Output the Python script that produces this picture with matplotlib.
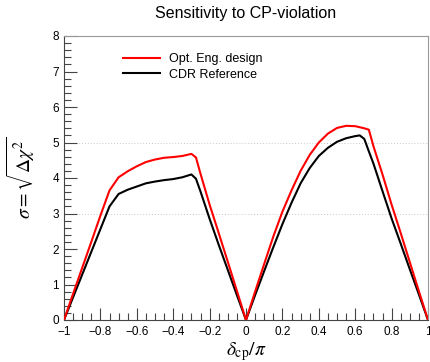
import matplotlib.pyplot as plt
import numpy as np

plt.rcParams['font.family'] = ['Liberation Sans', 'DejaVu Sans']
plt.rcParams['mathtext.fontset'] = 'stix'

# delta_cp / pi sample points
delta = [-1.0, -0.95, -0.9, -0.85, -0.8, -0.75, -0.7, -0.65, -0.6, -0.55, -0.5,
         -0.45, -0.4, -0.35, -0.3, -0.275, -0.25, -0.2, -0.15, -0.1, -0.05, 0.0,
         0.05, 0.1, 0.15, 0.2, 0.25, 0.3, 0.35, 0.4, 0.45, 0.5, 0.55, 0.6, 0.625,
         0.65, 0.675, 0.7, 0.75, 0.8, 0.85, 0.9, 0.95, 1.0]

# sensitivity, Optimised engineering design
sig_opt = [0.0, 0.74, 1.47, 2.2, 2.94, 3.65, 4.02, 4.19, 4.33, 4.45, 4.52,
           4.57, 4.59, 4.62, 4.68, 4.58, 4.12, 3.25, 2.45, 1.64, 0.82, 0.0,
           0.8, 1.58, 2.35, 3.05, 3.65, 4.2, 4.65, 5.0, 5.25, 5.41, 5.47, 5.46, 5.43,
           5.40, 5.36, 4.9, 4.1, 3.25, 2.45, 1.63, 0.81, 0.0]

# sensitivity, CDR reference
sig_cdr = [0.0, 0.64, 1.28, 1.92, 2.56, 3.2, 3.55, 3.67, 3.76, 3.85, 3.9,
           3.94, 3.97, 4.02, 4.10, 3.98, 3.62, 2.85, 2.12, 1.41, 0.7, 0.0,
           0.7, 1.38, 2.05, 2.7, 3.3, 3.85, 4.28, 4.62, 4.85, 5.02, 5.12, 5.18, 5.2,
           5.1, 4.75, 4.41, 3.63, 2.86, 2.15, 1.43, 0.72, 0.0]

fig = plt.figure(figsize=(4.3, 3.62), dpi=100)
ax = fig.add_axes([64/430, 42/362, 364/430, 284/362])

# 3 sigma and 5 sigma reference lines
for lvl in [3, 5]:
    ax.axhline(lvl, color='#c8c8c8', linestyle=(0, (1, 2)), linewidth=0.7, zorder=1)

ax.plot(delta, sig_opt, color='red', linewidth=1.5, label='Opt. Eng. design', zorder=3)
ax.plot(delta, sig_cdr, color='black', linewidth=1.5, label='CDR Reference', zorder=2)

ax.set_xlim(-1, 1)
ax.set_ylim(0, 8)
ax.set_xticks(np.arange(-1, 1.01, 0.2))
ax.set_xticks(np.arange(-1, 1.01, 0.05), minor=True)
ax.set_yticks(np.arange(0, 9, 1))
ax.set_yticks(np.arange(0, 8.01, 0.2), minor=True)
ax.set_xticklabels(['\u22121', '\u22120.8', '\u22120.6', '\u22120.4', '\u22120.2',
                    '0', '0.2', '0.4', '0.6', '0.8', '1'])
ax.tick_params(which='both', direction='in', top=False, right=False,
               labelsize=8.5, color='#444444')
ax.tick_params(axis='x', which='both', pad=4.5)
ax.tick_params(axis='y', which='both', pad=3.5)
ax.tick_params(which='major', length=9, width=0.8)
ax.tick_params(which='minor', length=5, width=0.8)

for s in ['top', 'right']:
    ax.spines[s].set_color('#999999')
for s in ['left', 'bottom']:
    ax.spines[s].set_color('#444444')

ax.set_title('Sensitivity to CP-violation', fontsize=11.5, pad=13)
ax.set_xlabel(r'$\delta_{\rm cp}/\pi$', fontsize=14, labelpad=1)
ax.set_ylabel(r'$\sigma = \sqrt{\Delta\chi^2}$', fontsize=14, labelpad=11)

ax.legend(loc='upper left', bbox_to_anchor=(0.13, 0.98), frameon=False,
          fontsize=9, handlelength=3.0, handletextpad=0.7, labelspacing=0.3)

fig.savefig('out.png', dpi=100)
